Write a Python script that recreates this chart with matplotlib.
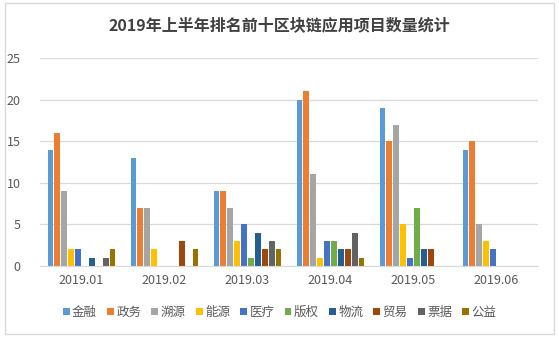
import numpy as np
import matplotlib.pyplot as plt
from matplotlib.patches import Rectangle

plt.rcParams['font.family'] = ['Noto Sans CJK SC', 'DejaVu Sans']

months = ['2019.01', '2019.02', '2019.03', '2019.04', '2019.05', '2019.06']
fields = ['金融', '政务', '溯源', '能源', '医疗', '版权', '物流', '贸易', '票据', '公益']
colors = ['#5B9BD5', '#ED7D31', '#A5A5A5', '#FFC000', '#4472C4',
          '#70AD47', '#255E91', '#9E480E', '#636363', '#997300']

# counts per field, one list per field, ordered by month
jinrong = [14, 13, 9, 20, 19, 14]
zhengwu = [16, 7, 9, 21, 15, 15]
suyuan = [9, 7, 7, 11, 17, 5]
nengyuan = [2, 2, 3, 1, 5, 3]
yiliao = [2, 0, 5, 3, 1, 2]
banquan = [0, 0, 1, 3, 7, 0]
wuliu = [1, 0, 4, 2, 2, 0]
maoyi = [0, 3, 2, 2, 2, 0]
piaoju = [1, 0, 3, 4, 0, 0]
gongyi = [2, 2, 2, 1, 0, 0]
series = [jinrong, zhengwu, suyuan, nengyuan, yiliao, banquan, wuliu, maoyi, piaoju, gongyi]

fig = plt.figure(figsize=(5.59, 3.37), dpi=100)
fig.patches.append(Rectangle((0.009, 0.01), 0.982, 0.98, transform=fig.transFigure,
                             fill=False, edgecolor='#d9d9d9', linewidth=1))
ax = fig.add_axes([40 / 559, 71 / 337, 498 / 559, 208 / 337])

x = np.arange(len(months))
step = 0.083
for i, (name, vals, c) in enumerate(zip(fields, series, colors)):
    ax.bar(x + (i - 4.5) * step, vals, width=step * 0.86, color=c, label=name)

ax.set_xlim(-0.5, len(months) - 0.5)
ax.set_ylim(0, 25)
ax.set_yticks(range(0, 26, 5))
ax.set_xticks(x)
ax.set_xticklabels(months)
ax.yaxis.grid(True, color='#d9d9d9', linewidth=0.9)
ax.set_axisbelow(True)
for s in ['top', 'right', 'left']:
    ax.spines[s].set_visible(False)
ax.spines['bottom'].set_color('#d9d9d9')
ax.tick_params(axis='both', length=0, labelsize=9, colors='#595959')
ax.tick_params(axis='y', pad=14)
ax.tick_params(axis='x', pad=6)

fig.text(0.5, 0.925, '2019年上半年排名前十区块链应用项目数量统计', ha='center', va='center',
         fontsize=11.5, fontweight='bold', color='#404040')

fig.legend(loc='center', bbox_to_anchor=(0.5, 0.073), ncol=10, frameon=False,
           fontsize=9, handlelength=0.55, handleheight=0.55, handletextpad=0.2,
           columnspacing=0.8, labelcolor='#595959')

fig.savefig('out.png', dpi=100)
